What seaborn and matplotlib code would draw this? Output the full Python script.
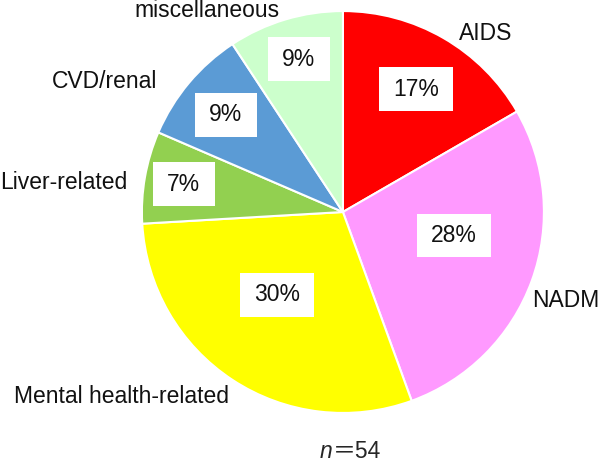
import matplotlib
matplotlib.use("Agg")
import matplotlib.pyplot as plt
from matplotlib.path import Path
import seaborn as sns

# causes of death, n = 54
causes = ["AIDS", "NADM", "Mental health-related", "Liver-related", "CVD/renal", "miscellaneous"]
deaths = [9, 15, 16, 4, 5, 5]
colors = ["#FF0000", "#FF99FF", "#FFFF00", "#92D050", "#5B9BD5", "#CCFFCC"]
n_total = sum(deaths)

# where the texts sit (pie radius = 1, centre at 0,0)
label_pos = [(0.711, 0.886), (1.109, -0.438), (-1.100, -0.920),
             (-1.388, 0.149), (-1.184, 0.647), (-0.677, 1.005)]
pct_pos = [(0.363, 0.612), (0.552, -0.119), (-0.328, -0.413),
           (-0.791, 0.139), (-0.582, 0.483), (-0.219, 0.761)]

sns.set_theme(style="white")
plt.rcParams["font.family"] = ["Liberation Sans", "Noto Sans CJK JP", "DejaVu Sans"]


def wide_box(x0, y0, width, height, mutation_size):
    # white label box, a bit wider than tall like the original
    px = 0.62 * mutation_size
    py = 0.44 * mutation_size
    x0, y0 = x0 - px, y0 - py
    x1, y1 = x0 + width + 2 * px, y0 + height + 2 * py
    return Path([(x0, y0), (x1, y0), (x1, y1), (x0, y1), (x0, y0)], closed=True)


fig = plt.figure(figsize=(6, 4.65), dpi=100)
ax = fig.add_axes([0, 0, 1, 1])

ax.pie(deaths, colors=colors, startangle=90, counterclock=False, radius=1,
       wedgeprops=dict(edgecolor="white", linewidth=1.5))

for name, (x, y) in zip(causes, label_pos):
    ax.text(x, y, name, ha="center", va="center", fontsize=16.5, color="#111111")

for d, (x, y) in zip(deaths, pct_pos):
    ax.text(x, y, f"{round(d / n_total * 100)}%", ha="center", va="center",
            fontsize=16.5, color="#111111",
            bbox=dict(boxstyle=wide_box, facecolor="white", edgecolor="none"))

ax.text(-0.05, -1.226, "n", ha="right", va="baseline", fontsize=16.5, style="italic")
ax.text(-0.05, -1.226, f"＝{n_total}", ha="left", va="baseline", fontsize=16.5)

ax.set_xlim(-1.706, 1.279)
ax.set_ylim(-1.259, 1.055)
ax.set_aspect("auto")
ax.axis("off")

fig.savefig("out.png", dpi=100)
